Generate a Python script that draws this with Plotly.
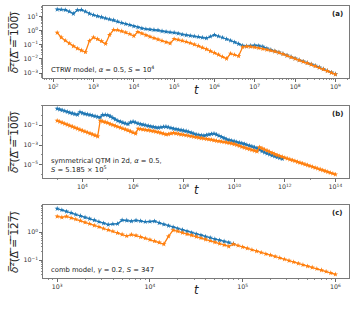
import math
import plotly.graph_objects as go

# ---------------- data (log10 of t and of the time-averaged MSD) ----------------
# panel (a): CTRW model
T_A_EXP = [2.1, 2.2, 2.3, 2.4, 2.5, 2.6, 2.7, 2.8, 2.9, 3.0,
           3.1, 3.2, 3.3, 3.4, 3.5, 3.6, 3.7, 3.8, 3.9, 4.0,
           4.1, 4.2, 4.3, 4.4, 4.5, 4.6, 4.7, 4.8, 4.9, 5.0,
           5.1, 5.2, 5.3, 5.4, 5.5, 5.6, 5.7, 5.8, 5.9, 6.0,
           6.1, 6.2, 6.3, 6.4, 6.5, 6.6, 6.7, 6.8, 6.9, 7.0,
           7.1, 7.2, 7.3, 7.4, 7.5, 7.6, 7.7, 7.8, 7.9, 8.0,
           8.1, 8.2, 8.3, 8.4, 8.5, 8.6, 8.7, 8.8, 8.9, 9.0]
A_BLUE_EXP = [1.50, 1.49, 1.46, 1.35, 1.20, 1.45, 1.47, 1.35, 1.20, 1.10,
              1.02, 0.95, 0.87, 0.80, 0.74, 0.64, 0.55, 0.47, 0.40, 0.31,
              0.24, 0.16, 0.11, 0.08, 0.05, 0.03, -0.04, -0.08, -0.12, -0.14,
              -0.20, -0.27, -0.32, -0.36, -0.40, -0.44, -0.49, -0.54, -0.42, -0.31,
              -0.40, -0.49, -0.60, -0.70, -0.82, -0.94, -1.06, -1.10, -1.06, -1.04,
              -1.07, -1.13, -1.26, -1.36, -1.45, -1.54, -1.64, -1.75, -1.86, -1.97,
              -2.08, -2.18, -2.28, -2.38, -2.48, -2.60, -2.72, -2.84, -2.96, -3.08]
A_ORANGE_EXP = [-0.15, -0.48, -0.70, -0.90, -1.10, -1.26, -1.40, -1.52, -0.72, -0.48,
                -0.60, -0.74, -0.93, -0.30, 0.06, 0.04, -0.04, -0.13, -0.24, -0.38,
                -0.09, -0.20, -0.32, -0.43, -0.53, -0.62, -0.72, -0.82, -0.90, -0.59,
                -0.64, -0.71, -0.79, -0.88, -0.98, -1.08, -1.20, -1.31, -1.45, -1.57,
                -1.70, -1.85, -1.98, -1.62, -1.71, -1.80, -1.16, -1.12, -1.14, -1.18,
                -1.23, -1.29, -1.35, -1.41, -1.47, -1.56, -1.66, -1.77, -1.88, -1.98,
                -2.09, -2.19, -2.29, -2.39, -2.50, -2.61, -2.73, -2.85, -2.97, -3.09]

# panel (b): symmetrical QTM in 2d
T_B_EXP = [3.0, 3.1, 3.2, 3.3, 3.4, 3.5, 3.6, 3.7, 3.8, 3.9,
           4.0, 4.1, 4.2, 4.3, 4.4, 4.5, 4.6, 4.7, 4.8, 4.9,
           5.0, 5.1, 5.2, 5.3, 5.4, 5.5, 5.6, 5.7, 5.8, 5.9,
           6.0, 6.1, 6.2, 6.3, 6.4, 6.5, 6.6, 6.7, 6.8, 6.9,
           7.0, 7.1, 7.2, 7.3, 7.4, 7.5, 7.6, 7.7, 7.8, 7.9,
           8.0, 8.1, 8.2, 8.3, 8.4, 8.5, 8.6, 8.7, 8.8, 8.9,
           9.0, 9.1, 9.2, 9.3, 9.4, 9.5, 9.6, 9.7, 9.8, 9.9,
           10.0, 10.1, 10.2, 10.3, 10.4, 10.5, 10.6, 10.7, 10.8, 10.9,
           11.0, 11.1, 11.2, 11.3, 11.4, 11.5, 11.6, 11.7, 11.8, 11.9,
           12.0, 12.1, 12.2, 12.3, 12.4, 12.5, 12.6, 12.7, 12.8, 12.9,
           13.0, 13.1, 13.2, 13.3, 13.4, 13.5, 13.6, 13.7, 13.8, 13.9,
           14.0]
B_BLUE_EXP = [0.68, 0.60, 0.52, 0.44, 0.36, 0.28, 0.20, 0.13, 0.06, 0.34,
              0.22, 0.15, 0.10, 0.04, -0.02, -0.09, -0.16, -0.20, 0.05, 0.06,
              0.02, -0.10, -0.25, -0.42, -0.55, -0.64, -0.73, -0.82, -0.88, -0.70,
              -0.63, -0.72, -0.82, -0.89, -0.94, -1.00, -1.06, -1.12, -1.17, -1.22,
              -1.25, -1.20, -1.15, -1.14, -1.20, -1.28, -1.35, -1.40, -1.45, -1.49,
              -1.54, -1.59, -1.66, -1.75, -1.85, -1.95, -1.98, -2.01, -2.05, -1.99,
              -1.93, -1.88, -1.84, -1.94, -2.06, -2.18, -2.30, -2.42, -2.50, -2.56,
              -2.63, -2.69, -2.75, -2.81, -2.89, -2.97, -3.05, -3.14, -3.23, -3.32,
              -3.48, -3.62, -3.75, -3.85, -3.95, -4.05, -4.14, -4.23, -4.31, -4.39]
B_ORANGE_EXP = [-0.54, -0.64, -0.74, -0.84, -0.94, -1.04, -1.14, -1.24, -1.34, -1.44,
                -1.54, -1.63, -1.73, -1.83, -1.93, -2.02, -2.12, -0.54, -0.61, -0.68,
                -0.75, -0.88, -0.97, -1.06, -1.15, -1.24, -1.33, -1.42, -1.51, -1.62,
                -1.73, -1.84, -1.35, -1.38, -1.42, -1.46, -1.50, -1.55, -1.59, -1.64,
                -1.70, -1.77, -1.84, -1.93, -1.90, -1.82, -1.77, -1.82, -1.87, -1.92,
                -1.96, -2.01, -2.06, -2.11, -2.16, -2.21, -2.25, -2.30, -2.34, -2.38,
                -2.42, -2.46, -2.52, -2.57, -2.61, -2.65, -2.69, -2.73, -2.78, -2.84,
                -2.91, -2.99, -3.08, -3.18, -3.26, -3.34, -3.42, -3.50, -3.57, -3.64,
                -3.22, -3.33, -3.45, -3.56, -3.68, -3.80, -3.92, -4.03, -4.11, -4.19,
                -4.28, -4.36, -4.45, -4.53, -4.61, -4.70, -4.78, -4.86, -4.95, -5.03,
                -5.12, -5.20, -5.29, -5.37, -5.46, -5.54, -5.63, -5.71, -5.80, -5.88,
                -5.97]

# panel (c): comb model
T_C_EXP = [3.00, 3.05, 3.10, 3.15, 3.20, 3.25, 3.30, 3.35, 3.40, 3.45,
           3.50, 3.55, 3.60, 3.65, 3.70, 3.75, 3.80, 3.85, 3.90, 3.95,
           4.00, 4.05, 4.10, 4.15, 4.20, 4.25, 4.30, 4.35, 4.40, 4.45,
           4.50, 4.55, 4.60, 4.65, 4.70, 4.75, 4.80, 4.85, 4.90, 4.95,
           5.00, 5.05, 5.10, 5.15, 5.20, 5.25, 5.30, 5.35, 5.40, 5.45,
           5.50, 5.55, 5.60, 5.65, 5.70, 5.75, 5.80, 5.85, 5.90, 5.95,
           6.00]
C_BLUE_EXP = [0.84, 0.79, 0.74, 0.69, 0.63, 0.58, 0.53, 0.48, 0.43, 0.37,
              0.32, 0.27, 0.29, 0.30, 0.43, 0.42, 0.39, 0.42, 0.40, 0.37,
              0.38, 0.39, 0.33, 0.28, 0.23, 0.18, 0.13, 0.08, 0.03, -0.02,
              -0.07, -0.11, -0.16, -0.20, -0.25, -0.29, -0.33, -0.37, -0.42]
C_ORANGE_EXP = [0.56, 0.53, 0.56, 0.51, 0.46, 0.41, 0.35, 0.30, 0.24, 0.19,
                0.13, 0.08, 0.03, -0.03, -0.08, -0.14, -0.09, -0.12, -0.17, -0.22,
                -0.27, -0.32, -0.37, -0.43, -0.15, 0.07, 0.03, -0.02, -0.07, -0.11,
                -0.16, -0.21, -0.26, -0.31, -0.36, -0.41, -0.46, -0.51, -0.43, -0.48,
                -0.53, -0.58, -0.63, -0.68, -0.73, -0.78, -0.82, -0.87, -0.92, -0.97,
                -1.02, -1.07, -1.12, -1.17, -1.22, -1.26, -1.31, -1.36, -1.41, -1.46,
                -1.51]

PANEL_TEXT = ["CTRW model, <i>α</i> = 0.5, <i>S</i> = 10<sup>4</sup>",
              "symmetrical QTM in 2d, <i>α</i> = 0.5,<br><i>S</i> = 5.185 × 10<sup>5</sup>",
              "comb model, <i>γ</i> = 0.2, <i>S</i> = 347"]
PANEL_LABEL = ["(a)", "(b)", "(c)"]
YLAB_DELTA = ["100", "100", "127"]

# ---------------- styling / layout ----------------
BLUE = "#1f77b4"
ORANGE = "#ff7f0e"
FONT = "DejaVu Sans"
W, H = 357, 309
XL, XR = 43.3, 349.3
PANELS_PX = [(6.0, 77.7), (105.5, 177.7), (205.3, 277.7)]
XRANGES = [[1.755, 9.345], [2.45, 14.55], [2.85, 6.15]]
YRANGES = [[-3.33, 1.74], [-6.30, 1.00], [-1.63, 0.96]]
XMAJ = [[2, 3, 4, 5, 6, 7, 8, 9], [4, 6, 8, 10, 12, 14], [3, 4, 5, 6]]
YMAJ = [[-3, -2, -1, 0, 1], [-5, -3, -1], [-1, 0]]


def sup_label(e):
    s = str(e).replace("-", "\u2212")
    return "10<sup>" + s + "</sup>"


def minor_vals(rng, majors):
    lo, hi = rng
    vals = []
    step = majors[1] - majors[0] if len(majors) > 1 else 1
    for d in range(int(lo) - 2, int(hi) + 2):
        if step == 1:
            for m in range(2, 10):
                v = m * 10.0 ** d
                if lo <= math.log10(v) <= hi:
                    vals.append(v)
        else:
            if d not in majors and lo <= d <= hi:
                vals.append(10.0 ** d)
    return vals


fig = go.Figure()
series = [(T_A_EXP, A_BLUE_EXP, A_ORANGE_EXP),
          (T_B_EXP, B_BLUE_EXP, B_ORANGE_EXP),
          (T_C_EXP, C_BLUE_EXP, C_ORANGE_EXP)]

for i, (texp, bexp, oexp) in enumerate(series):
    xa = "x" if i == 0 else f"x{i+1}"
    ya = "y" if i == 0 else f"y{i+1}"
    for yexp, col in ((bexp, BLUE), (oexp, ORANGE)):
        fig.add_trace(go.Scatter(
            x=[10 ** e for e in texp[:len(yexp)]],
            y=[10 ** e for e in yexp],
            mode="lines+markers",
            line=dict(color=col, width=1.3),
            marker=dict(symbol="star", size=4, color=col, line=dict(width=0)),
            xaxis=xa, yaxis=ya, showlegend=False, hoverinfo="skip"))

layout = dict(width=W, height=H, margin=dict(l=0, r=0, t=0, b=0),
              paper_bgcolor="white", plot_bgcolor="white",
              font=dict(family=FONT, size=7, color="#222"))

annotations = []
OL = "\u0305"
for i in range(3):
    top, bot = PANELS_PX[i]
    xk = "xaxis" if i == 0 else f"xaxis{i+1}"
    yk = "yaxis" if i == 0 else f"yaxis{i+1}"
    anchor_x = "y" if i == 0 else f"y{i+1}"
    anchor_y = "x" if i == 0 else f"x{i+1}"
    axis_common = dict(type="log", showgrid=False, zeroline=False,
                       showline=True, mirror=True, linecolor="#7a7a7a", linewidth=1,
                       ticks="outside", ticklen=3, tickwidth=0.8, tickcolor="#444",
                       tickfont=dict(family=FONT, size=6.3, color="#333"))
    layout[xk] = dict(axis_common, domain=[XL / W, XR / W], anchor=anchor_x,
                      range=XRANGES[i], tickmode="array",
                      tickvals=[10.0 ** e for e in XMAJ[i]],
                      ticktext=[sup_label(e) for e in XMAJ[i]],
                      minor=dict(tickmode="array", tickvals=minor_vals(XRANGES[i], XMAJ[i]),
                                 ticks="outside", ticklen=1.6, tickwidth=0.6,
                                 tickcolor="#444", showgrid=False))
    layout[yk] = dict(axis_common, domain=[1 - bot / H, 1 - top / H], anchor=anchor_y,
                      range=YRANGES[i], tickmode="array",
                      tickvals=[10.0 ** e for e in YMAJ[i]],
                      ticktext=[sup_label(e) for e in YMAJ[i]],
                      minor=dict(tickmode="array", tickvals=minor_vals(YRANGES[i], YMAJ[i]),
                                 ticks="outside", ticklen=1.6, tickwidth=0.6,
                                 tickcolor="#444", showgrid=False))
    mid = (top + bot) / 2
    # y-axis title with overline
    body = "²(Δ = " + YLAB_DELTA[i] + ")"
    ytitle = "<i>δ" + OL + "</i>" + "".join(ch + OL for ch in body)
    annotations.append(dict(text=ytitle, xref="paper", yref="paper",
                            x=13.5 / W, y=1 - mid / H, xanchor="center", yanchor="middle",
                            textangle=-90, showarrow=False,
                            font=dict(family=FONT, size=10.5, color="#222")))
    # x-axis title
    annotations.append(dict(text="<i>t</i>", xref="paper", yref="paper",
                            x=(XL + XR) / 2 / W, y=1 - (bot + 12.5) / H,
                            xanchor="center", yanchor="middle", showarrow=False,
                            font=dict(family=FONT, size=11.5, color="#222")))
    # panel label
    annotations.append(dict(text="<b>" + PANEL_LABEL[i] + "</b>", xref="paper", yref="paper",
                            x=344.5 / W, y=1 - (top + 8) / H, xanchor="right", yanchor="middle",
                            showarrow=False, font=dict(family=FONT, size=7, color="#222")))
    # panel description
    ty = [70.0, 165.0, 270.0][i]
    annotations.append(dict(text=PANEL_TEXT[i], xref="paper", yref="paper",
                            x=48.5 / W, y=1 - ty / H, xanchor="left", yanchor="middle",
                            align="left", showarrow=False,
                            font=dict(family=FONT, size=6.8, color="#222")))

layout["annotations"] = annotations
fig.update_layout(**layout)
fig.write_html("out.html",
               config={"displayModeBar": False, "staticPlot": True},
               post_script="document.body.style.margin='0';document.body.style.overflow='hidden';")
